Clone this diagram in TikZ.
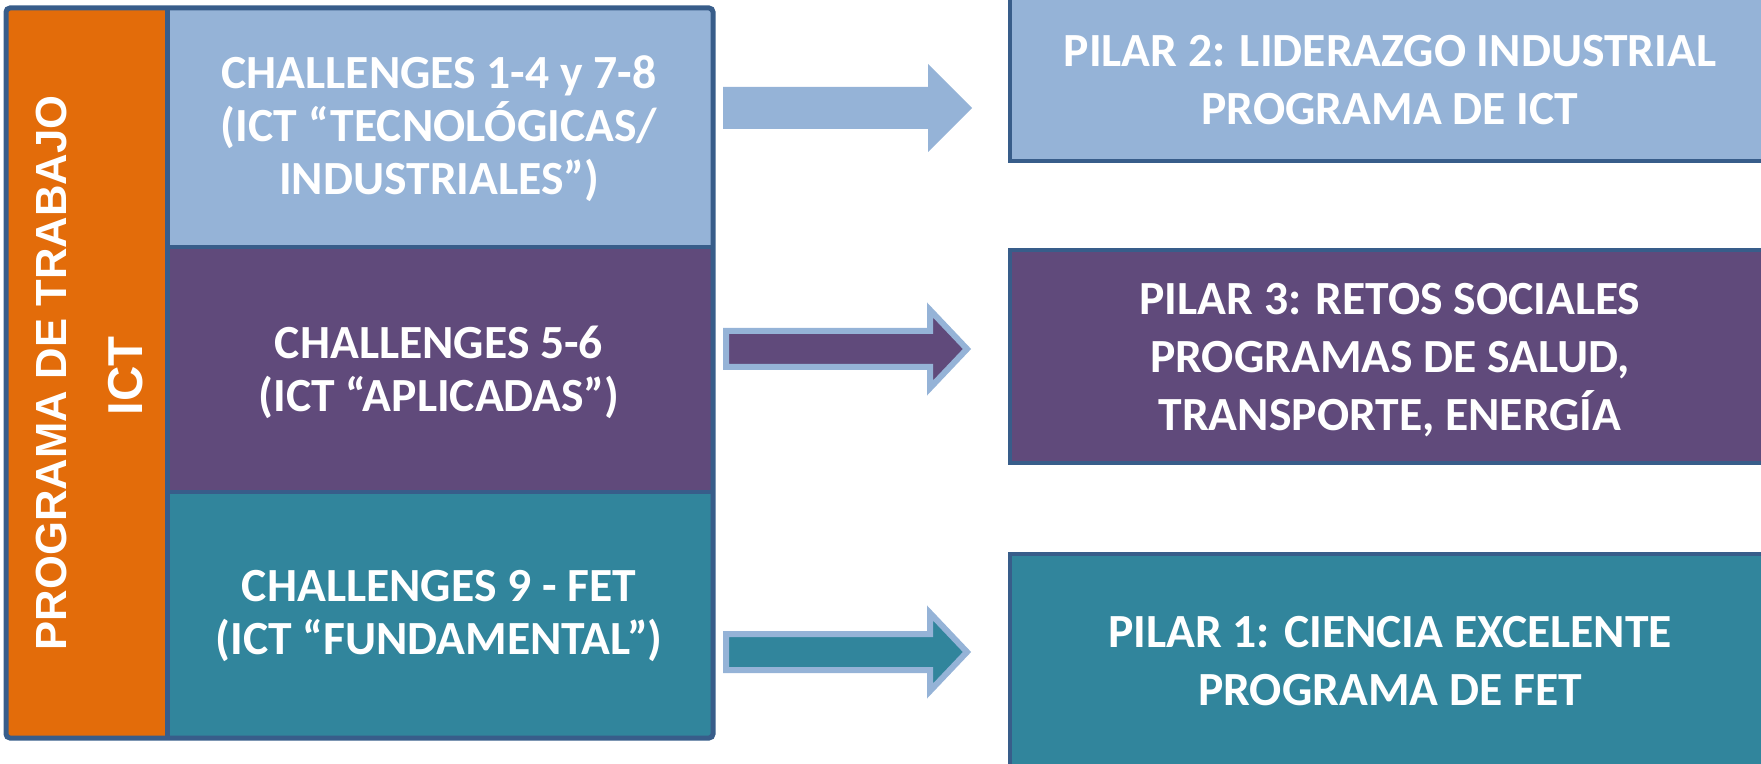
\documentclass[tikz,border=0pt]{standalone}
\usepackage{fontspec}
\setmainfont{Carlito}
\newfontfamily\arialfont{Liberation Sans}
\definecolor{lblue}{RGB}{149,179,215}
\definecolor{purp}{RGB}{96,74,123}
\definecolor{tealc}{RGB}{49,133,156}
\definecolor{orng}{RGB}{227,108,10}
\definecolor{bord}{RGB}{56,93,138}
\tikzset{
  lefttext/.style={text=white, align=center, font=\bfseries\fontsize{23.8}{26.5}\selectfont},
  righttext/.style={text=white, align=center, font=\bfseries\fontsize{23.8}{29}\selectfont},
  pillar/.style={draw=bord, line width=2pt},
  blockarrow/.style={draw=lblue, line width=3pt, line join=miter},
}
\begin{document}
\begin{tikzpicture}[x=0.5pt,y=-0.5pt]
\useasboundingbox (0,0) rectangle (1761,764);
\clip (0,0) rectangle (1761,764);
% left block
\fill[orng] (6,8) rectangle (166,738);
\fill[lblue] (166,8) rectangle (713,247);
\fill[purp] (166,247) rectangle (713,492);
\fill[tealc] (166,492) rectangle (713,738);
\draw[bord, line width=2.5pt] (167,8) -- (167,738);
\draw[bord, line width=2pt] (166,247) -- (713,247) (166,492) -- (713,492);
\draw[bord, line width=2.5pt, rounded corners=2pt] (6,8) rectangle (713,738);
\node[text=white, rotate=90, font=\arialfont\bfseries\fontsize{21.8}{24}\selectfont] (prog) at (51,373) {PROGRAMA DE TRABAJO};
\node[text=white, rotate=90, font=\arialfont\bfseries\fontsize{24.5}{27}\selectfont] (ict) at (126,376) {ICT};
\node[lefttext] (c1) at (439,129) {CHALLENGES 1-4 y 7-8\\(ICT “TECNOLÓGICAS/\\INDUSTRIALES”)};
\node[lefttext] (c2) at (439,372) {CHALLENGES 5-6\\(ICT “APLICADAS”)};
\node[lefttext] (c3) at (439,616) {CHALLENGES 9 - FET\\(ICT “FUNDAMENTAL”)};
% right boxes
\draw[pillar, fill=lblue] (1010,-20) rectangle (1800,161);
\draw[pillar, fill=purp] (1010,250) rectangle (1800,463);
\draw[pillar, fill=tealc] (1010,554) rectangle (1800,790);
\node[righttext] (p2) at (1390,80) {PILAR 2: LIDERAZGO INDUSTRIAL\\PROGRAMA DE ICT};
\node[righttext] (p3) at (1390,360) {PILAR 3: RETOS SOCIALES\\PROGRAMAS DE SALUD,\\TRANSPORTE, ENERGÍA};
\node[righttext] (p1) at (1390,661) {PILAR 1: CIENCIA EXCELENTE\\PROGRAMA DE FET};
% block arrows
\fill[lblue] (723,87) -- (928,87) -- (928,64) -- (972,108) -- (928,152) -- (928,129) -- (723,129) -- cycle;
\draw[blockarrow, fill=purp] (726,331) -- (930,331) -- (930,310) -- (967,349) -- (930,388) -- (930,367) -- (726,367) -- cycle;
\draw[blockarrow, fill=tealc] (726,634) -- (930,634) -- (930,613) -- (967,652) -- (930,691) -- (930,670) -- (726,670) -- cycle;
\end{tikzpicture}
\end{document}
